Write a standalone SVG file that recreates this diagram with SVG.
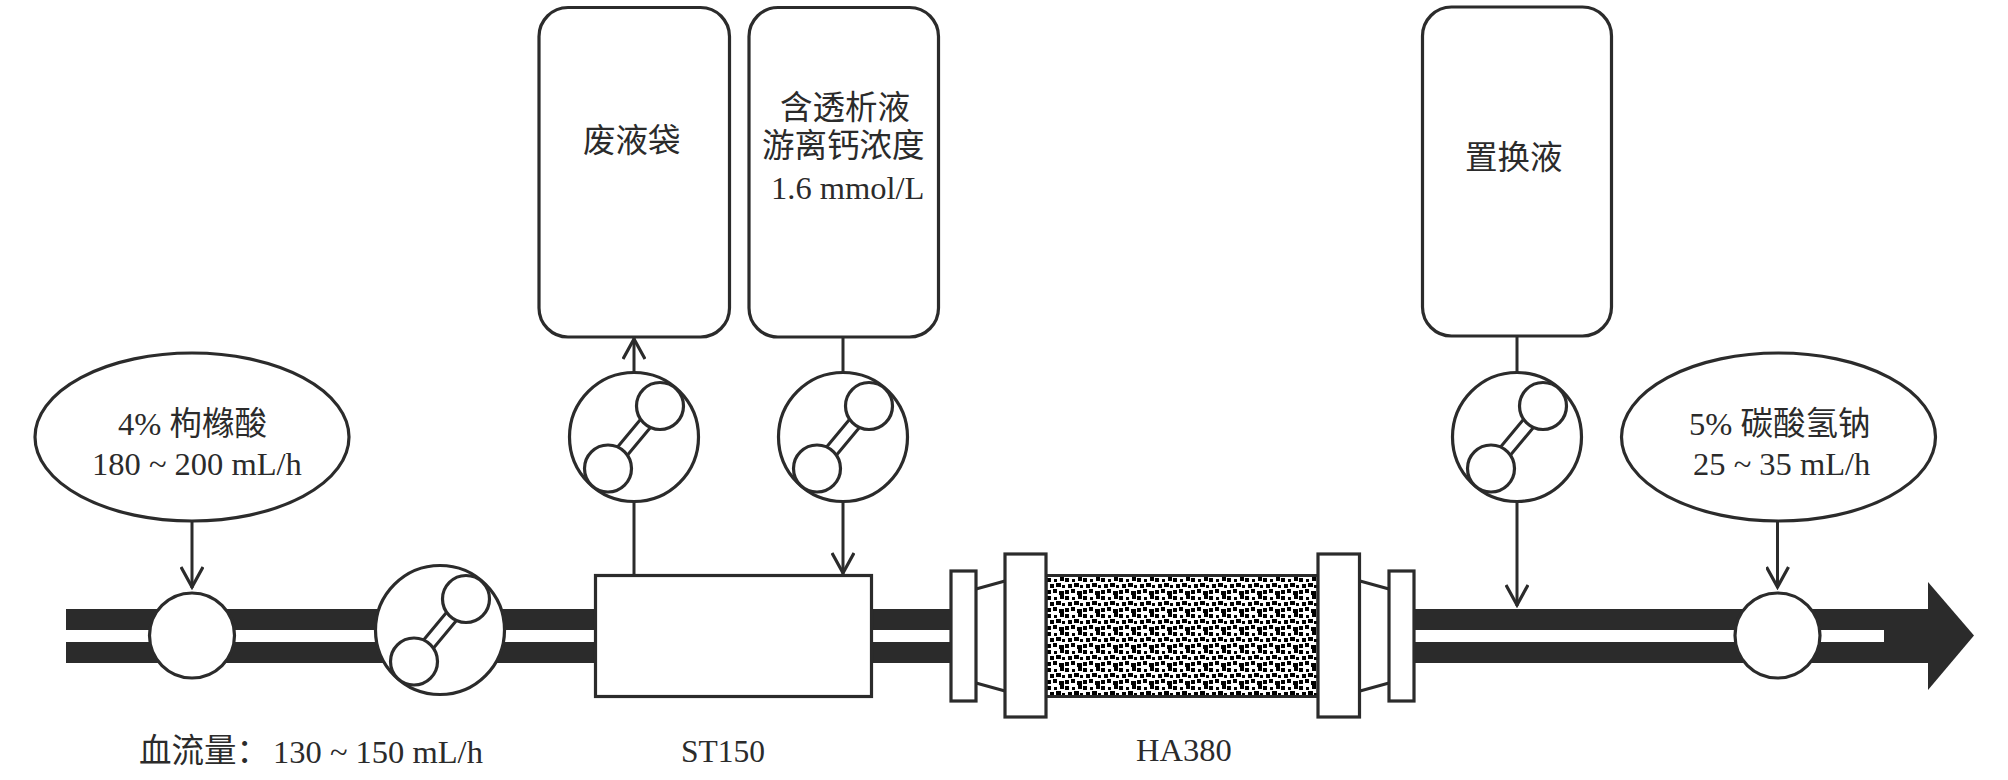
<svg xmlns="http://www.w3.org/2000/svg" width="2008" height="780" viewBox="0 0 2008 780">
<style>
.s{fill:#fff;stroke:#2b2b2b;stroke-width:3.2}
.n{fill:none;stroke:#2b2b2b;stroke-width:3}
.w{fill:#fff;stroke:none}
.p{fill:#2b2b2b;stroke:none}
text{font-family:"Liberation Serif","Noto Sans CJK SC",serif;font-size:32.5px;fill:#2b2b2b}
</style>
<defs>
<pattern id="dots" x="1047" y="577" width="18" height="18" patternUnits="userSpaceOnUse">
<rect width="18" height="18" fill="#fff"/>
<g fill="#000">
<rect x="0" y="1" width="4" height="4"/><rect x="7" y="2" width="3" height="3"/><rect x="13" y="0" width="4" height="4"/>
<rect x="3" y="7" width="4" height="4"/><rect x="9" y="6" width="5" height="4"/><rect x="15" y="8" width="3" height="3"/>
<rect x="0" y="13" width="4" height="4"/><rect x="6" y="12" width="4" height="4"/><rect x="12" y="14" width="5" height="4"/>
</g>
</pattern>
<g id="pump">
<circle class="s" r="64.5" cx="0" cy="0"/>
<path class="n" d="M-31 27.500 L21 -35 M-21 35.500 L31 -27"/>
<circle class="s" cx="26" cy="-31" r="23.5"/>
<circle class="s" cx="-26" cy="31.5" r="23.5"/>
</g>
<marker id="a" viewBox="0 0 26 24" refX="24" refY="12" markerUnits="userSpaceOnUse" markerWidth="26" markerHeight="24" orient="auto"><path d="M3 1 L23 12 L3 23" fill="none" stroke="#2b2b2b" stroke-width="3.2"/></marker>
</defs>
<g id="pipe">
<rect class="p" x="66" y="609" width="1862" height="21"/>
<rect class="p" x="66" y="642" width="1862" height="21"/>
<rect class="p" x="1884" y="609" width="46" height="54"/>
<path class="p" d="M1928 582 L1974 635.5 L1928 690 Z"/>
</g>
<g id="connectors">
<path class="n" marker-end="url(#a)" d="M192 521 V588"/>
<path class="n" marker-end="url(#a)" d="M634 372 V338"/>
<path class="n" d="M634 502 V575"/>
<path class="n" d="M843 337 V372"/>
<path class="n" marker-end="url(#a)" d="M843 502 V574"/>
<path class="n" d="M1517 336 V372"/>
<path class="n" marker-end="url(#a)" d="M1517 502 V606"/>
<path class="n" marker-end="url(#a)" d="M1777.500 521 V588"/>
</g>
<g id="citrate"><ellipse class="s" cx="192" cy="437" rx="157" ry="84"/><text x="118" y="435">4% 枸橼酸</text><text x="92" y="475">180 ~ 200 mL/h</text></g>
<g id="bicarbonate"><ellipse class="s" cx="1778.500" cy="437" rx="157" ry="84"/><text x="1689" y="435">5% 碳酸氢钠</text><text x="1693" y="475">25 ~ 35 mL/h</text></g>
<g id="inlet1"><circle class="s" cx="192" cy="635.500" r="42.500"/></g>
<g id="inlet2"><circle class="s" cx="1777.500" cy="635.500" r="42.500"/></g>
<g id="blood-pump"><use href="#pump" x="440" y="630"/></g>
<g id="waste-pump"><use href="#pump" x="634" y="437"/></g>
<g id="dialysate-pump"><use href="#pump" x="843" y="437"/></g>
<g id="replacement-pump"><use href="#pump" x="1517" y="437"/></g>
<g id="waste-bag"><rect class="s" x="539" y="7.500" width="190.500" height="329.500" rx="29"/><text x="583" y="152">废液袋</text></g>
<g id="dialysate-bag"><rect class="s" x="749" y="7.500" width="189.500" height="329.500" rx="29"/><text x="780" y="119">含透析液</text><text x="762" y="157">游离钙浓度</text><text x="771" y="199">1.6 mmol/L</text></g>
<g id="replacement-bag"><rect class="s" x="1422.500" y="7" width="189" height="329" rx="29"/><text x="1465" y="169">置换液</text></g>
<g id="st150"><rect class="s" x="595.500" y="575.500" width="276" height="121"/><text x="681" y="762" style="font-size:31.500px">ST150</text></g>
<g id="ha380">
<path class="w" d="M976 589 L1005 581 V691 L976 683 Z M1360 581 L1389 589 V683 L1360 691 Z"/>
<path class="n" d="M976 589 L1005 581 M976 683 L1005 691 M1360 581 L1389 589 M1360 691 L1389 683"/>
<rect x="1046" y="575.500" width="272" height="121" fill="url(#dots)" stroke="#2b2b2b" stroke-width="3"/>
<rect class="s" x="951" y="571" width="25" height="130"/>
<rect class="s" x="1005" y="554" width="41" height="163"/>
<rect class="s" x="1318" y="554" width="41.500" height="163"/>
<rect class="s" x="1389" y="571" width="25" height="130"/>
<text x="1136" y="761">HA380</text>
</g>
<g id="flow-label"><text x="139" y="762">血流量：<tspan dx="4" y="763">130 ~ 150 mL/h</tspan></text></g>
</svg>
